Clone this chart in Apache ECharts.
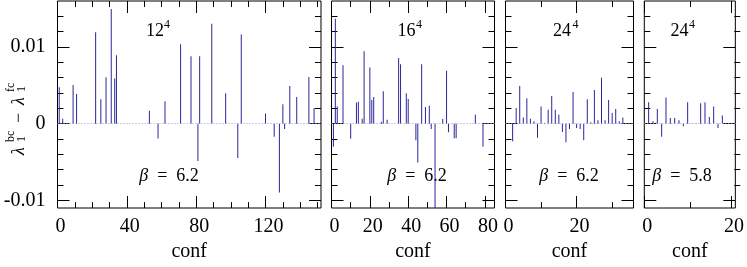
<!DOCTYPE html>
<html><head><meta charset="utf-8">
<script src="https://cdn.jsdelivr.net/npm/echarts@6/dist/echarts.min.js"></script>
<style>html,body{margin:0;padding:0;background:#fff}#c{width:747px;height:267px}</style>
</head><body><div id="c"></div>
<script>
// ---------------- data ----------------
const panelSize = ['12', '16', '24', '24'];
const panelExp = '4';
const panelBeta = ['6.2', '6.2', '6.2', '5.8'];
const xAxisName = 'conf';

const xMax = [152, 85, 36, 21];
const xMajorTicks = [[0, 40, 80, 120], [0, 20, 40, 60, 80], [0, 20], [0, 20]];
const xMinorTicks = [[10, 20, 30, 50, 60, 70, 90, 100, 110, 130, 140, 150], [10, 30, 50, 70], [10, 30], [10]];
const yMin = -0.011, yMax = 0.016;
const yMajorTicks = [-0.01, 0, 0.01];
const yTickLabels = ['-0.01', '0', '0.01'];
const yMinorTicks = [-0.008, -0.006, -0.004, -0.002, 0.002, 0.004, 0.006, 0.008, 0.012, 0.014];

// 12^4, beta = 6.2
const conf12 = [1, 3, 9, 11, 22, 25, 28, 31, 33, 34, 53, 58, 62, 71, 77, 81, 82, 89, 97, 104, 106, 120, 125, 128, 130, 131, 134, 138, 145, 148];
const diff12 = [0.00475, 0.00065, 0.00504, 0.00388, 0.01194, 0.00319, 0.00604, 0.01497, 0.0059, 0.00893, 0.00168, -0.00194, 0.00293, 0.01035, 0.0088, -0.00487, 0.0088, 0.01303, 0.00397, -0.00449, 0.01164, 0.00133, -0.00172, -0.00897, 0.00254, -0.00069, 0.00492, 0.00349, 0.00608, 0.00203];
// 16^4, beta = 6.2
const conf16 = [1, 2, 3, 6, 10, 13, 14, 16, 17, 20, 21, 22, 26, 27, 29, 35, 36, 39, 40, 44, 45, 47, 49, 51, 52, 54, 58, 60, 61, 64, 65, 75, 79];
const diff16 = [-0.00301, 0.01367, 0.00224, 0.00763, -0.00198, 0.00276, 0.00285, 0.00065, 0.00944, 0.00733, 0.0031, 0.00349, 0.00026, 0.00423, 0.00052, 0.00858, 0.00776, 0.00397, 0.00323, -0.00216, -0.00508, 0.00776, 0.00216, 0.00233, -0.00069, -0.011, 0.0006, 0.0069, -0.00112, -0.0019, -0.0019, 0.00116, -0.00301];
// 24^4, beta = 6.2
const conf24a = [2, 3, 4, 5, 6, 7, 8, 9, 10, 11, 12, 13, 14, 15, 16, 17, 18, 19, 20, 21, 22, 23, 24, 25, 26, 27, 28, 29, 30, 31, 32, 33, 34];
const diff24a = [-0.00229, 0.00203, 0.00492, 0.00082, 0.00332, 0.00065, 0.0003, -0.00185, 0.00224, 0.00009, 0.00181, 0.00362, 0.00181, 0.00116, -0.00108, -0.00241, -0.00069, 0.00414, -0.00056, -0.00069, -0.00216, 0.00319, 0.0002, 0.0044, 0.00043, 0.00599, 0.00043, 0.0031, 0.00138, 0.0019, 0.0003, 0.00082, 0.0001];
// 24^4, beta = 5.8
const conf24b = [1, 2, 3, 4, 5, 6, 7, 8, 9, 10, 11, 12, 13, 14, 15, 16, 17, 18];
const diff24b = [0.0028, 0.0003, 0.0019, -0.00172, 0.0034, 0.00073, 0.00073, 0.00043, -0.00034, 0.0028, 0.00005, 0.00005, 0.00267, 0.0028, 0.00086, 0.00224, -0.00056, 0.00108];

const panelConf = [conf12, conf16, conf24a, conf24b];
const panelDiff = [diff12, diff16, diff24a, diff24b];

// ---------------- styling / layout ----------------
const FONT = "'Liberation Serif', 'Times New Roman', serif";
const BAR = '#27279b';
const ZERO = '#9a9ad8';
const boxes = [[57.5, 263.5], [331.5, 163], [505.5, 128], [644.3, 96]];
const TOP = 1, HEIGHT = 207;
const MAJ = 12, MIN = 6;

const grids = [], xAxes = [], yAxes = [], series = [], graphics = [];
for (let i = 0; i < 8; i++) {
  const b = boxes[i % 4];
  grids.push({left: b[0], width: b[1], top: TOP, height: HEIGHT, show: i < 4,
    borderColor: '#000', borderWidth: 1, backgroundColor: 'transparent'});
}
function tickAxis(base, vals, len) {
  return Object.assign({
    type: 'value', splitLine: {show: false},
    axisLine: {show: false, onZero: false},
    axisTick: {show: true, inside: true, length: len, customValues: vals, lineStyle: {color: '#000', width: 1}},
    axisLabel: {show: false}
  }, base);
}
for (let g = 0; g < 4; g++) {
  const xmain = tickAxis({gridIndex: g, min: 0, max: xMax[g], position: 'bottom',
    name: xAxisName, nameLocation: 'middle', nameGap: 33,
    nameTextStyle: {fontSize: 20, fontFamily: FONT, color: '#000'}}, xMajorTicks[g], MAJ);
  xmain.axisLabel = {show: true, customValues: xMajorTicks[g], fontSize: 20, fontFamily: FONT, color: '#000', margin: 9, padding: [0, 0, 0, 6]};
  xAxes.push(xmain);
  xAxes.push(tickAxis({gridIndex: g, min: 0, max: xMax[g], position: 'top'}, xMajorTicks[g], MAJ));
  xAxes.push(tickAxis({gridIndex: g + 4, min: 0, max: xMax[g], position: 'bottom'}, xMinorTicks[g], MIN));
  xAxes.push(tickAxis({gridIndex: g + 4, min: 0, max: xMax[g], position: 'top'}, xMinorTicks[g], MIN));

  const ymain = tickAxis({gridIndex: g, min: yMin, max: yMax, position: 'left'}, yMajorTicks, MAJ);
  if (g === 0) {
    ymain.axisLabel = {show: true, customValues: yMajorTicks, fontSize: 20, fontFamily: FONT, color: '#000', margin: 12,
      formatter: v => yTickLabels[yMajorTicks.findIndex(t => Math.abs(t - v) < 1e-9)]};
  }
  yAxes.push(ymain);
  yAxes.push(tickAxis({gridIndex: g, min: yMin, max: yMax, position: 'right'}, yMajorTicks, MAJ));
  yAxes.push(tickAxis({gridIndex: g + 4, min: yMin, max: yMax, position: 'left'}, yMinorTicks, MIN));
  yAxes.push(tickAxis({gridIndex: g + 4, min: yMin, max: yMax, position: 'right'}, yMinorTicks, MIN));

  series.push({
    type: 'bar', xAxisIndex: 4 * g, yAxisIndex: 4 * g, barWidth: 1, silent: true, animation: false,
    itemStyle: {color: BAR},
    data: panelConf[g].map((c, i) => [c, panelDiff[g][i]]),
    markLine: {silent: true, symbol: 'none', animation: false, label: {show: false},
      lineStyle: {color: ZERO, type: [1, 2], width: 1}, data: [{yAxis: 0}]}
  });
}

// panel annotations
const sizePos = [[155, 164], [406.5, 416], [562, 572.5], [679.5, 689]];
const betaPos = [169, 417, 569, 682];
function txt(x, y, text, font, align, extra) {
  return Object.assign({type: 'text', x: x, y: y, silent: true,
    style: {text: text, font: font, fill: '#000', align: align, textAlign: align, verticalAlign: 'middle', textVerticalAlign: 'middle'}}, extra || {});
}
for (let g = 0; g < 4; g++) {
  graphics.push(txt(sizePos[g][0], 31, panelSize[g], '18px ' + FONT, 'center'));
  graphics.push(txt(sizePos[g][1], 25, panelExp, '12px ' + FONT, 'left'));
  graphics.push({type: 'text', x: betaPos[g], y: 176.5, silent: true,
    style: {text: '{i|β}\u2002=\u2002' + panelBeta[g], font: '18px ' + FONT, fill: '#000',
      align: 'center', textAlign: 'center', verticalAlign: 'middle', textVerticalAlign: 'middle',
      rich: {i: {fontStyle: 'italic', fontSize: 18, fontFamily: FONT, fill: '#000', color: '#000'}}}});
}
// y axis title  λ_1^bc − λ_1^fc  (rotated)
graphics.push({type: 'group', x: 19, y: 155, rotation: Math.PI / 2, silent: true, children: [
  txt(0, 0, 'λ', 'italic 18px ' + FONT, 'left'),
  txt(13, -8, 'bc', '12px ' + FONT, 'left'),
  txt(13, 3, '1', '12px ' + FONT, 'left'),
  txt(32, 0, '−', '18px ' + FONT, 'left'),
  txt(50, 0, 'λ', 'italic 18px ' + FONT, 'left'),
  txt(63, -8, 'fc', '12px ' + FONT, 'left'),
  txt(63, 3, '1', '12px ' + FONT, 'left')
]});

const chart = echarts.init(document.getElementById('c'), null, {renderer: 'canvas'});
chart.setOption({
  animation: false,
  backgroundColor: '#fff',
  grid: grids, xAxis: xAxes, yAxis: yAxes, series: series, graphic: graphics
});
</script></body></html>
